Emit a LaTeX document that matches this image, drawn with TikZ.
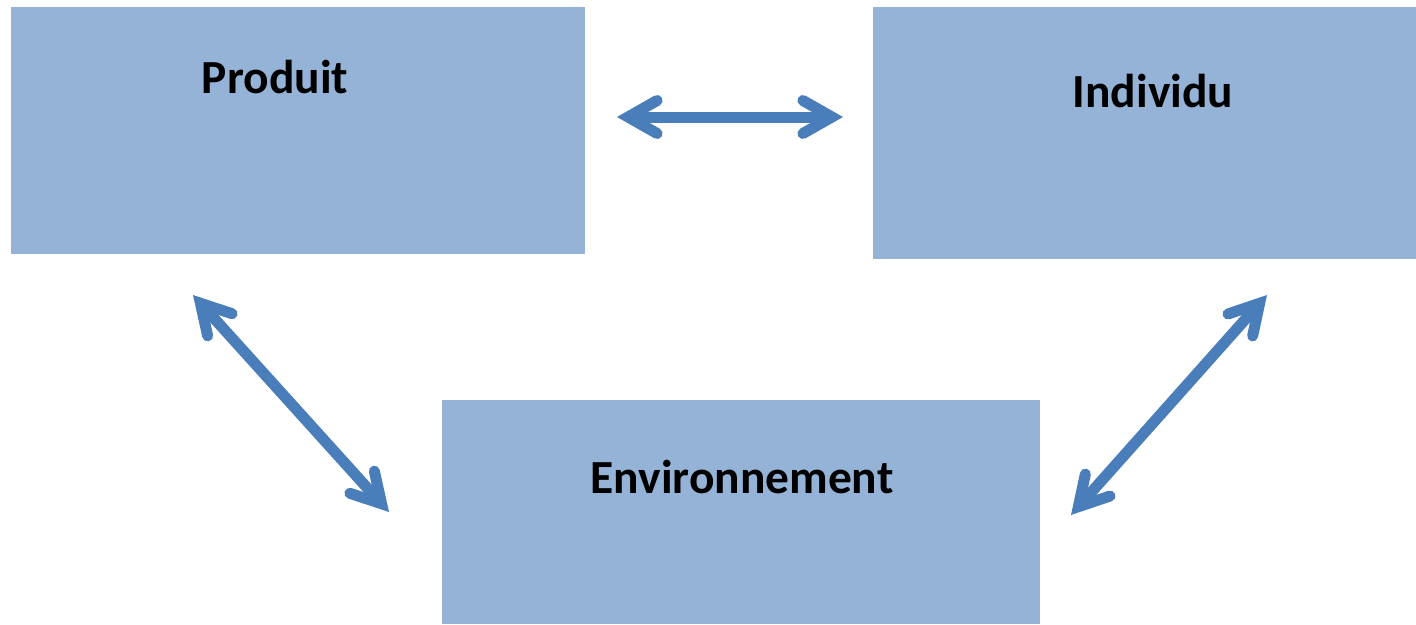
\documentclass[tikz,border=0pt]{standalone}
\usepackage{fontspec}
\setmainfont{Carlito}
\usetikzlibrary{arrows.meta}
\definecolor{boxfill}{RGB}{149,179,215}
\definecolor{arrowblue}{RGB}{74,126,187}
\tikzset{
  box/.style={fill=boxfill, draw=none, anchor=north west, inner sep=0pt},
  lbl/.style={anchor=base, inner sep=0pt, font=\fontsize{47.5}{52}\selectfont\bfseries},
  biarrow/.style={draw=arrowblue, line width=11pt,
    {Straight Barb[length=29pt, width=33pt, line cap=round, line join=miter]}-{Straight Barb[length=29pt, width=33pt, line cap=round, line join=miter]}}
}
\begin{document}
\begin{tikzpicture}[x=1pt, y=-1pt]
\useasboundingbox (0,0) rectangle (1416,624);
\node[box, minimum width=574pt, minimum height=247pt] (prod) at (11,7) {};
\node[box, minimum width=543pt, minimum height=252pt] (ind) at (873,7) {};
\node[box, minimum width=598pt, minimum height=224pt] (env) at (442,400) {};
\node[lbl] (prodt) at (275,93) {Produit};
\node[lbl] (indt) at (1153,107) {Individu};
\node[lbl] (envt) at (742,493) {Environnement};
\coordinate (h1) at (617,117);
\coordinate (h2) at (843,117);
\coordinate (l1) at (193,295);
\coordinate (l2) at (389,512);
\coordinate (r1) at (1267,295);
\coordinate (r2) at (1071,515);
\draw[biarrow] (h1) -- (h2);
\draw[biarrow] (l1) -- (l2);
\draw[biarrow] (r1) -- (r2);
\end{tikzpicture}
\end{document}
